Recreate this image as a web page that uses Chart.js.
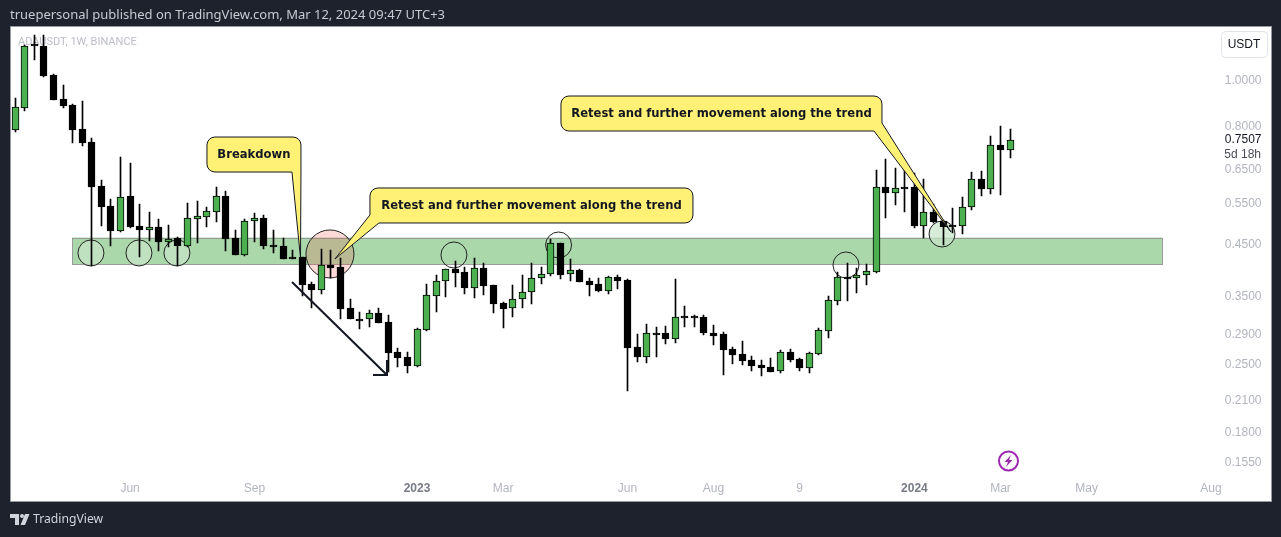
<!DOCTYPE html>
<html>
<head>
<meta charset="utf-8">
<title>ADAUSDT 1W</title>
<script src="https://cdn.jsdelivr.net/npm/chart.js@4"></script>
<style>
  html, body { margin: 0; padding: 0; background: #1e222d; overflow: hidden; }
  canvas { display: block; }
</style>
</head>
<body>
<canvas id="myChart" width="1281" height="537"></canvas>
<script>
// weekly candles, 14 Mar 2022 -> 11 Mar 2024
var opens = [.7874,.8766,1.195,1.1862,1.0297,.9159,.8895,.7913,.7426,.5992,.5435,.4811,.5707,.4930,.4834,.4906,.4559,.4649,.4472,.5101,.5151,.5278,.5707,.4649,.4280,.5052,.5126,.4493,.4472,.4238,
  .4238,.3714,.3608,.4076,.4036,.3305,.3132,.3132,.3225,.3086,.2666,.2602,.2490,.2968,.3504,.3769,.3997,.3939,.3643,.4017,.3696,.3386,.3305,.3453,.3573,.3825,.3900,.4537,.3900,.3977,
  .3769,.3714,.3590,.3844,.3788,.2732,.2602,.2925,.2925,.2841,.3178,.3178,.3163,.2925,.2910,.2705,.2640,.2564,.2502,.2478,.2430,.2666,.2577,.2466,.2640,.2953,.3419,.3844,.3825,.3881,
  .3939,.5963,.5791,.5963,.5963,.4930,.5278,.5052,.4954,.4930,.5408,.6200,.5905,.7318,.7142];
var highs = [.9204,1.1920,1.2516,1.2516,1.0347,.9807,.8920,.9071,.7574,.6170,.5624,.6903,.6703,.5488,.5278,.5101,.4954,.4671,.5515,.5569,.5408,.5963,.5848,.4834,.5101,.5252,.5201,.4834,.4649,.4385,
  .4245,.3751,.4407,.4385,.4218,.3453,.3241,.3272,.3305,.3194,.2719,.2666,.2997,.3714,.3881,.4005,.4156,.4036,.4218,.4116,.3700,.3403,.3696,.3881,.4116,.4036,.4626,.4545,.4197,.3997,
  .3825,.3825,.3862,.3881,.3806,.2910,.3056,.3012,.3026,.3806,.3337,.3194,.3194,.3041,.2939,.2732,.2813,.2615,.2564,.2589,.2692,.2705,.2589,.2660,.2997,.3504,.3939,.4116,.4017,.4096,
  .6478,.6836,.6542,.6802,.6385,.6200,.5488,.5076,.5382,.5680,.6416,.6447,.7647,.8029,.7913];
var lows = [.7798,.8639,1.1079,1.0197,.9100,.8766,.7390,.7283,.4056,.4930,.4472,.4787,.4882,.4238,.4582,.4364,.4450,.4056,.4450,.4537,.4906,.5027,.4364,.4275,.4259,.4559,.4407,.4322,.4190,.4190,
  .3504,.3305,.3538,.3825,.3132,.3125,.2982,.3012,.3065,.2419,.2478,.2407,.2478,.2960,.3241,.3487,.3660,.3538,.3470,.3521,.3225,.2997,.3163,.3305,.3370,.3714,.3862,.3806,.3769,.3745,
  .3504,.3573,.3538,.3625,.2204,.2539,.2527,.2602,.2772,.2786,.3012,.3012,.2896,.2759,.2384,.2515,.2502,.2430,.2372,.2415,.2407,.2539,.2430,.2407,.2627,.2854,.3353,.3419,.3555,.3696,
  .3919,.5126,.5461,.5278,.4882,.4649,.5003,.4493,.4764,.4741,.5330,.5707,.5763,.5735,.6869];
var closes = [.8809,1.1862,1.189,1.0247,.9115,.8852,.7874,.7390,.5963,.5408,.4811,.5680,.4906,.4834,.4906,.4559,.4626,.4472,.5126,.5176,.5304,.5707,.4626,.4280,.5052,.5126,.4472,.4472,.4197,.4197,
  .3696,.3608,.4076,.4017,.3289,.3132,.3116,.3225,.3071,.2653,.2589,.2490,.2982,.3521,.3769,.3997,.3919,.3643,.4017,.3678,.3370,.3289,.3453,.3573,.3825,.3900,.4537,.3881,.3977,.3751,
  .3696,.3590,.3844,.3769,.2719,.2602,.2925,.2910,.2841,.3163,.3147,.3147,.2925,.2882,.2692,.2627,.2552,.2490,.2466,.2419,.2666,.2564,.2466,.2653,.2968,.3436,.3844,.3825,.3881,.3958,
  .5963,.5791,.5934,.5934,.4930,.5278,.5027,.4906,.4906,.5408,.6200,.5905,.7318,.7142,.7507];

var slotCount = 131; // weeks visible on the time axis, candles stop at 105
var timeTickIndexes = [12, 25, 42, 51, 64, 73, 82, 94, 103, 112, 125];
var timeTickLabels = ["Jun", "Sep", "2023", "Mar", "Jun", "Aug", "9", "2024", "Mar", "May", "Aug"];
var priceTicks = [1, .8, .7507, .65, .55, .45, .35, .29, .25, .21, .18, .155];
var lastPrice = .7507;

var green = "#4caf50";
var ink = "#131722";
var font = "'Liberation Sans', Arial, sans-serif";
var paleGreen = "rgba(200,230,201,.7)";

// zone and drawings, in candle index / price
var zone = { from: 5.93, to: 119.9, top: .466, bottom: .4096 };
var circles = [
  { i: 7.91, p: .4322, r: 13, fill: paleGreen },
  { i: 12.93, p: .4322, r: 13, fill: paleGreen },
  { i: 16.9, p: .4322, r: 13, fill: paleGreen },
  { i: 32.9, p: .4301, r: 24, fill: "rgba(244,67,54,.2)" },
  { i: 45.86, p: .4280, r: 13 },
  { i: 56.8, p: .4493, r: 13 },
  { i: 86.85, p: .4076, r: 13 },
  { i: 96.89, p: .4741, r: 13, fill: paleGreen }
];
var callouts = [
  { text: "Breakdown", i: 20.04, p: .7609, w: 94, h: 35, tipI: 29.82, tipP: .4218, corner: "br", va: 0, hb: 9 },
  { text: "Retest and further movement along the trend", i: 37.08, p: .5934, w: 323, h: 35, tipI: 33.42, tipP: .4197, corner: "bl", va: 8, hb: 9 },
  { text: "Retest and further movement along the trend", i: 57.05, p: .9294, w: 321, h: 35, tipI: 97.83, tipP: .4787, corner: "br", va: 8, hb: 8 }
];

function xAt(chart, i) { return chart.scales.x.getPixelForValue(i); }
function yAt(chart, p) { return chart.scales.y.getPixelForValue(p); }

function calloutPath(ctx, chart, c) {
  var l = xAt(chart, c.i), t = yAt(chart, c.p);
  var r = l + c.w, b = t + c.h, rad = 8;
  var tx = xAt(chart, c.tipI), ty = yAt(chart, c.tipP);
  ctx.beginPath();
  ctx.moveTo(l + rad, t);
  ctx.lineTo(r - rad, t);
  ctx.arcTo(r, t, r, t + rad, rad);
  if (c.corner == "br") {
    ctx.lineTo(r, b - c.va);
    ctx.lineTo(tx, ty);
    ctx.lineTo(r - c.hb, b);
  } else {
    ctx.lineTo(r, b - rad);
    ctx.arcTo(r, b, r - rad, b, rad);
  }
  if (c.corner == "bl") {
    ctx.lineTo(l + c.hb, b);
    ctx.lineTo(tx, ty);
    ctx.lineTo(l, b - c.va);
  } else {
    ctx.lineTo(l + rad, b);
    ctx.arcTo(l, b, l, b - rad, rad);
  }
  ctx.lineTo(l, t + rad);
  ctx.arcTo(l, t, l + rad, t, rad);
  ctx.closePath();
}

var tvDrawings = {
  id: "tvDrawings",
  // snap candles to whole pixels, TradingView draws them crisp
  afterDatasetUpdate: function(chart, args) {
    chart.getDatasetMeta(args.index).data.forEach(function(el) {
      el.x = Math.floor(el.x) + 0.5;
      el.y = Math.round(el.y);
      el.base = Math.round(el.base);
      if (Math.abs(el.base - el.y) < 2 && args.index == 0) { el.base = el.y + 2; }
    });
  },
  beforeDraw: function(chart) {
    var ctx = chart.ctx;
    ctx.save();
    ctx.fillStyle = "#1e222d";
    ctx.fillRect(0, 0, chart.width, chart.height);
    ctx.fillStyle = "#ffffff";
    ctx.fillRect(11, 27, 1260, 474);
    ctx.strokeStyle = "#9598a1";
    ctx.lineWidth = 1;
    ctx.strokeRect(10.5, 26.5, 1261, 475);

    ctx.textBaseline = "middle";
    ctx.fillStyle = "#c8cad2";
    ctx.font = "13px 'Noto Sans'";
    ctx.fillText("truepersonal published on TradingView.com, Mar 12, 2024 09:47 UTC+3", 10, 15);

    // logo
    ctx.fillStyle = "#d1d4dc";
    ctx.beginPath();
    ctx.moveTo(10, 514); ctx.lineTo(19, 514); ctx.lineTo(19, 525); ctx.lineTo(15, 525); ctx.lineTo(15, 518); ctx.lineTo(10, 518);
    ctx.closePath();
    ctx.fill();
    ctx.beginPath();
    ctx.arc(22, 516, 2, 0, Math.PI * 2);
    ctx.fill();
    ctx.beginPath();
    ctx.moveTo(25, 514); ctx.lineTo(29.5, 514); ctx.lineTo(25, 525); ctx.lineTo(20.5, 525);
    ctx.closePath();
    ctx.fill();
    ctx.font = "12.2px 'Noto Sans'";
    ctx.fillText("TradingView", 33, 520);
    ctx.restore();
  },
  beforeDatasetsDraw: function(chart) {
    var ctx = chart.ctx;
    ctx.save();
    ctx.textBaseline = "middle";
    ctx.fillStyle = "#bcbec6";
    ctx.font = "11px Roboto";
    ctx.fillText("ADAUSDT, 1W, BINANCE", 18, 42);

    var zx = xAt(chart, zone.from), zy = yAt(chart, zone.top);
    var zw = xAt(chart, zone.to) - zx, zh = yAt(chart, zone.bottom) - zy;
    ctx.fillStyle = "#aad8aa";
    ctx.fillRect(zx, zy, zw, zh);
    ctx.strokeStyle = "#9a9a9a";
    ctx.lineWidth = 1;
    ctx.strokeRect(Math.round(zx) + .5, Math.round(zy) + .5, Math.round(zw), Math.round(zh));

    circles.forEach(function(c) {
      ctx.beginPath();
      ctx.arc(xAt(chart, c.i), yAt(chart, c.p), c.r, 0, Math.PI * 2);
      if (c.fill) {
        ctx.fillStyle = c.fill;
        ctx.fill();
      }
      ctx.strokeStyle = "#222222";
      ctx.lineWidth = 1;
      ctx.stroke();
    });
    ctx.restore();
  },
  afterDatasetsDraw: function(chart) {
    var ctx = chart.ctx;
    ctx.save();

    // down arrow after the breakdown
    ctx.strokeStyle = "#131722";
    ctx.lineWidth = 2;
    ctx.beginPath();
    ctx.moveTo(xAt(chart, 28.93), yAt(chart, .3751));
    ctx.lineTo(xAt(chart, 38.86), yAt(chart, .2384));
    ctx.moveTo(xAt(chart, 38.86), yAt(chart, .2564));
    ctx.lineTo(xAt(chart, 38.86), yAt(chart, .2384));
    ctx.lineTo(xAt(chart, 37.4), yAt(chart, .2384));
    ctx.stroke();

    callouts.forEach(function(c) {
      calloutPath(ctx, chart, c);
      ctx.fillStyle = "#fff176";
      ctx.fill();
      ctx.strokeStyle = "#131722";
      ctx.lineWidth = 1;
      ctx.stroke();
      ctx.fillStyle = ink;
      ctx.font = "bold 11.6px 'DejaVu Sans'";
      ctx.textAlign = "center";
      ctx.textBaseline = "middle";
      ctx.fillText(c.text, xAt(chart, c.i) + c.w / 2, yAt(chart, c.p) + c.h / 2);
    });

    // price scale button and countdown
    ctx.textAlign = "center";
    ctx.beginPath();
    ctx.roundRect(1221.5, 31.5, 46, 26, 4);
    ctx.fillStyle = "#ffffff";
    ctx.fill();
    ctx.strokeStyle = "#e0e3eb";
    ctx.stroke();
    ctx.fillStyle = ink;
    ctx.font = "12px " + font;
    ctx.fillText("USDT", 1244, 45);
    ctx.textAlign = "right";
    ctx.fillStyle = "#4a4d57";
    ctx.fillText("5d 18h", 1261, 155);

    // lightning badge
    ctx.strokeStyle = "#9c27b0";
    ctx.lineWidth = 2;
    ctx.beginPath();
    ctx.arc(1008.5, 461, 9.5, 0, Math.PI * 2);
    ctx.stroke();
    ctx.fillStyle = "#9c27b0";
    ctx.beginPath();
    ctx.moveTo(1011, 455); ctx.lineTo(1004.5, 462); ctx.lineTo(1008, 462); ctx.lineTo(1006, 467);
    ctx.lineTo(1012.5, 460); ctx.lineTo(1009, 460);
    ctx.closePath();
    ctx.fill();
    ctx.restore();
  }
};

var labels = [];
for (var i = 0; i < slotCount; i++) { labels.push(i); }

var bodies = opens.map(function(o, i) { return [o, closes[i]]; });
var wicks = lows.map(function(l, i) { return [l, highs[i]]; });
var bodyColors = opens.map(function(o, i) { return closes[i] > o ? green : "#000000"; });

var chart = new Chart(document.getElementById("myChart"), {
  type: "bar",
  data: {
    labels: labels,
    datasets: [
      {
        label: "body",
        data: bodies,
        backgroundColor: bodyColors,
        borderColor: "#000000",
        borderWidth: 1,
        borderSkipped: false,
        barThickness: 7,
        grouped: false
      },
      {
        label: "wick",
        data: wicks,
        backgroundColor: "#000000",
        barThickness: 1,
        grouped: false
      }
    ]
  },
  plugins: [tvDrawings],
  options: {
    responsive: false,
    animation: false,
    maintainAspectRatio: false,
    layout: { padding: { left: 10.5, right: 17.5, top: 27, bottom: 36 } },
    plugins: { legend: { display: false }, title: { display: false }, tooltip: { enabled: false } },
    scales: {
      x: {
        type: "category",
        offset: true,
        grid: { display: false, drawTicks: false },
        border: { display: false },
        afterFit: function(scale) { scale.height = 24; },
        afterBuildTicks: function(scale) {
          scale.ticks = timeTickIndexes.map(function(v) { return { value: v }; });
        },
        ticks: {
          autoSkip: false,
          maxRotation: 0,
          padding: 4,
          color: function(ctx) {
            return /^20/.test(ctx.tick.label) ? "#787b86" : "#b2b5be";
          },
          font: function(ctx) {
            return { family: font, size: 12, weight: /^20/.test(ctx.tick.label) ? "bold" : "normal" };
          },
          callback: function(value) {
            return timeTickLabels[timeTickIndexes.indexOf(value)];
          }
        }
      },
      y: {
        type: "logarithmic",
        position: "right",
        min: .14489,
        max: 1.3014,
        grid: { display: false },
        border: { display: false },
        afterFit: function(scale) { scale.width = 0; },
        afterBuildTicks: function(scale) {
          scale.ticks = priceTicks.map(function(v) { return { value: v }; });
        },
        ticks: {
          mirror: true,
          autoSkip: false,
          padding: -2,
          color: function(ctx) {
            return ctx.tick.value == lastPrice ? ink : "#b2b5be";
          },
          font: { family: font, size: 12 },
          callback: function(value) {
            return value.toFixed(4);
          }
        }
      }
    }
  }
});
</script>
</body>
</html>
